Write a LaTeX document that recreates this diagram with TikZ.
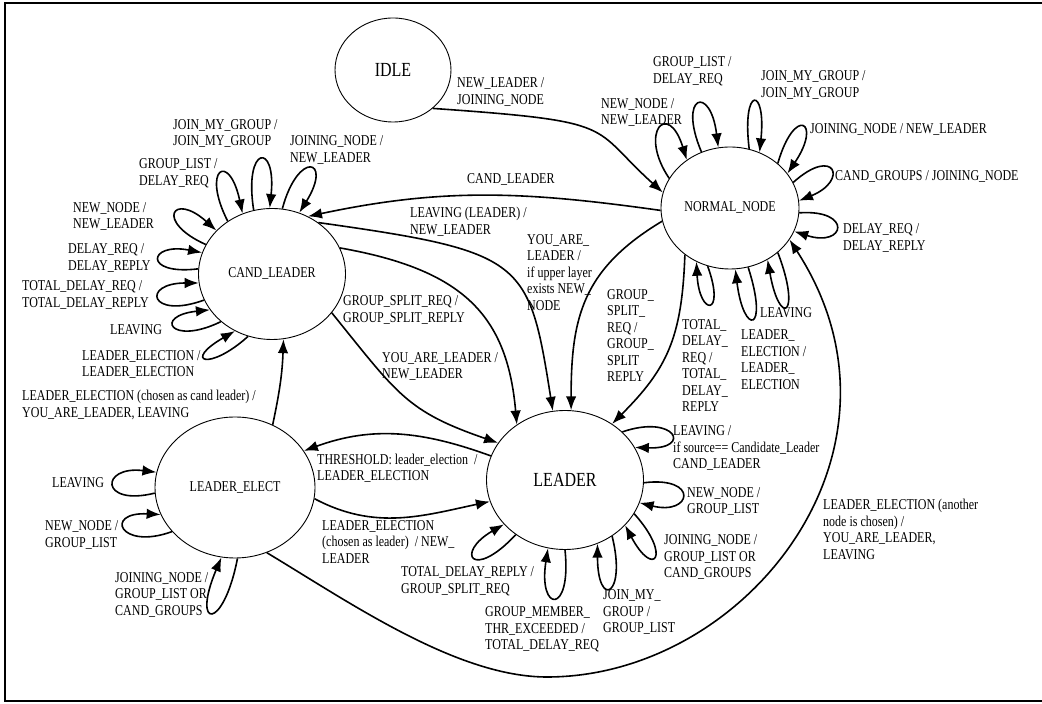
\documentclass[tikz,border=0pt]{standalone}
\usepackage{fontspec}
\setmainfont{Liberation Serif}[FakeStretch=0.8]
\usetikzlibrary{shapes.geometric,arrows.meta}
\tikzstyle{trans}=[->,>={Latex[length=14pt,width=10.5pt]},line width=1.6pt]
\tikzstyle{state}=[ellipse,draw,line width=0.9pt,inner sep=0pt]
\tikzstyle{big}=[font=\fontsize{20}{22}\selectfont]
\tikzstyle{lbl}=[inner sep=0pt,anchor=west,align=left]

\begin{document}
\begin{tikzpicture}[x=1pt,y=1pt,font=\fontsize{15}{16.5}\selectfont]
\useasboundingbox (0,0) rectangle (1042,704);
%The frame
\draw[line width=2pt] (1042,701) -- (5,701) -- (5,3) -- (1042,3);

%The states
\draw (393,634) node[state,big,minimum width=116pt,minimum height=104pt] (idle) {IDLE};
\draw (730,496) node[state,minimum width=138pt,minimum height=122pt] (normal) {NORMAL\_NODE};
\draw (272,430) node[state,minimum width=147pt,minimum height=131pt] (cand) {CAND\_LEADER};
\draw (235,216.5) node[state,minimum width=160pt,minimum height=141pt] (elect) {LEADER\_ELECT};
\draw (565,224) node[state,big,minimum width=157pt,minimum height=139pt] (leader) {LEADER};

%Transitions between states
\draw[trans] (idle.-44) to[out=-4,in=138,out distance=190pt,in distance=100pt] (normal.167);
\draw[trans] (normal.182) to[out=172,in=12] (cand.58);
\draw[trans] (cand.48) to[out=-8,in=99,out distance=209pt,in distance=153pt] (leader.100);
\draw[trans] (cand.21) to[out=-10,in=95,out distance=125pt,in distance=110pt] (leader.131);
\draw[trans] (cand.327) to[out=-51,in=161,out distance=105pt,in distance=97pt] (leader.151);
\draw[trans] (normal.191) to[out=211,in=90,out distance=93pt,in distance=93pt] (leader.85);
\draw[trans] (normal.226) to[out=268,in=45,out distance=83pt,in distance=78pt] (leader.50);
\draw[trans] (elect.59) to[out=78,in=268] (cand.280);
\draw[trans] (leader.162) to[out=160,in=20] (elect.28);
\draw[trans] (elect.352) to[out=-28,in=192] (leader.196);
\coordinate (low) at (547,27);
\draw[trans] (elect.296) to[out=-31,in=180,out distance=98pt,in distance=90pt] (low)
  to[out=0,in=303,out distance=200pt,in distance=250pt] (normal.332);

%Loops on NORMAL_NODE
\draw[trans] (normal.154) to[out=124,in=107,out distance=56pt,in distance=63pt] (normal.132);
\draw[trans] (normal.117) to[out=113,in=97,out distance=62pt,in distance=64pt] (normal.101);
\draw[trans] (normal.72) to[out=97,in=84,out distance=64pt,in distance=67pt] (normal.62);
\draw[trans] (normal.43) to[out=74,in=56,out distance=61pt,in distance=63pt] (normal.31);
\draw[trans] (normal.22) to[out=42,in=22,out distance=56pt,in distance=54pt] (normal.6);
\draw[trans] (normal.356) to[out=4,in=-18,out distance=54pt,in distance=54pt] (normal.340);
\draw[trans] (normal.317) to[out=-69,in=-80,out distance=68pt,in distance=70pt] (normal.306);
\draw[trans] (normal.287) to[out=-72,in=-83,out distance=69pt,in distance=68pt] (normal.275);
\draw[trans] (normal.249) to[out=-70,in=-87,out distance=54pt,in distance=55pt] (normal.238);

%Loops on CAND_LEADER
\draw[trans] (cand.106) to[out=99,in=84,out distance=66pt,in distance=67pt] (cand.92);
\draw[trans] (cand.81) to[out=75,in=58,out distance=61pt,in distance=64pt] (cand.66);
\draw[trans] (cand.130) to[out=117,in=102,out distance=59pt,in distance=64pt] (cand.116);
\draw[trans] (cand.156) to[out=156,in=138,out distance=56pt,in distance=59pt] (cand.142);
\draw[trans] (cand.176) to[out=187,in=169,out distance=56pt,in distance=55pt] (cand.163);
\draw[trans] (cand.201) to[out=200,in=180,out distance=58pt,in distance=58pt] (cand.187);
\draw[trans] (cand.223) to[out=206,in=186,out distance=56pt,in distance=57pt] (cand.210);
\draw[trans] (cand.249) to[out=222,in=210,out distance=53pt,in distance=61pt] (cand.237);

%Loops on LEADER_ELECT
\draw[trans] (elect.184) to[out=194,in=173,out distance=57pt,in distance=57pt] (elect.169);
\draw[trans] (elect.215) to[out=200,in=177,out distance=56pt,in distance=57pt] (elect.200);
\draw[trans] (elect.272) to[out=259,in=247,out distance=75pt,in distance=78pt] (elect.259);

%Loops on LEADER
\draw[trans] (leader.40) to[out=19,in=-2,out distance=56pt,in distance=58pt] (leader.25);
\draw[trans] (leader.358) to[out=7,in=-14,out distance=56pt,in distance=54pt] (leader.343);
\draw[trans] (leader.334) to[out=-48,in=-62,out distance=57pt,in distance=61pt] (leader.323);
\draw[trans] (leader.310) to[out=-76,in=-90,out distance=62pt,in distance=66pt] (leader.297);
\draw[trans] (leader.270) to[out=-84,in=-99,out distance=66pt,in distance=65pt] (leader.256);
\draw[trans] (leader.228) to[out=227,in=210,out distance=64pt,in distance=57pt] (leader.216);

%The labels
\draw (457,612) node[lbl] (l-idle) {NEW\_LEADER /\\JOINING\_NODE};
\draw (467,524) node[lbl] (l-cl) {CAND\_LEADER};
\draw (410,482) node[lbl] (l-leave) {LEAVING (LEADER) /\\NEW\_LEADER};
\draw (343,394) node[lbl] (l-split) {GROUP\_SPLIT\_REQ /\\GROUP\_SPLIT\_REPLY};
\draw (382,337.5) node[lbl] (l-you) {YOU\_ARE\_LEADER /\\NEW\_LEADER};
\draw (527,431.5) node[lbl] (l-upper) {YOU\_ARE\_\\LEADER /\\if upper layer\\exists NEW\_\\NODE};
\draw (607,368.5) node[lbl] (l-nsplit) {GROUP\_\\SPLIT\_\\REQ /\\GROUP\_\\SPLIT\\REPLY};
\draw (682,338.5) node[lbl] (l-ntotal) {TOTAL\_\\DELAY\_\\REQ /\\TOTAL\_\\DELAY\_\\REPLY};
\draw (741,344.5) node[lbl] (l-nelect) {LEADER\_\\ELECTION /\\LEADER\_\\ELECTION};
\draw (760,391) node[lbl] (l-nleave) {LEAVING};
\draw (843,466) node[lbl] (l-ndelay) {DELAY\_REQ /\\DELAY\_REPLY};
\draw (835,527) node[lbl] (l-ncand) {CAND\_GROUPS / JOINING\_NODE};
\draw (810,574) node[lbl] (l-njoining) {JOINING\_NODE / NEW\_LEADER};
\draw (761,619) node[lbl] (l-njoin) {JOIN\_MY\_GROUP /\\JOIN\_MY\_GROUP};
\draw (653,632.5) node[lbl] (l-nlist) {GROUP\_LIST /\\DELAY\_REQ};
\draw (601,591.5) node[lbl] (l-nnew) {NEW\_NODE /\\NEW\_LEADER};

\draw (173,570.5) node[lbl] (l-cjoin) {JOIN\_MY\_GROUP /\\JOIN\_MY\_GROUP};
\draw (290,554) node[lbl] (l-cjoining) {JOINING\_NODE /\\NEW\_LEADER};
\draw (139,530.5) node[lbl] (l-clist) {GROUP\_LIST /\\DELAY\_REQ};
\draw (73,487.5) node[lbl] (l-cnew) {NEW\_NODE /\\NEW\_LEADER};
\draw (68,446) node[lbl] (l-cdelay) {DELAY\_REQ /\\DELAY\_REPLY};
\draw (22,409) node[lbl] (l-ctotal) {TOTAL\_DELAY\_REQ /\\TOTAL\_DELAY\_REPLY};
\draw (110,374) node[lbl] (l-cleave) {LEAVING};
\draw (82,339.5) node[lbl] (l-celect) {LEADER\_ELECTION /\\LEADER\_ELECTION};
\draw (22,299) node[lbl] (l-chosen) {LEADER\_ELECTION (chosen as cand leader) /\\YOU\_ARE\_LEADER, LEAVING};

\draw (52,221) node[lbl] (l-eleave) {LEAVING};
\draw (45,169) node[lbl] (l-enew) {NEW\_NODE /\\GROUP\_LIST};
\draw (115,109) node[lbl] (l-ejoining) {JOINING\_NODE /\\GROUP\_LIST OR\\CAND\_GROUPS};
\draw (317,235.5) node[lbl] (l-thresh) {THRESHOLD: leader\_election \ /\\LEADER\_ELECTION};
\draw (322,162) node[lbl] (l-lchosen) {LEADER\_ELECTION\\(chosen as leader) \ / NEW\_\\LEADER};

\draw (673,255.5) node[lbl] (l-lleave) {LEAVING /\\if source== Candidate\_Leader\\CAND\_LEADER};
\draw (687,202.5) node[lbl] (l-lnew) {NEW\_NODE /\\GROUP\_LIST};
\draw (664,146.5) node[lbl] (l-ljoining) {JOINING\_NODE /\\GROUP\_LIST OR\\CAND\_GROUPS};
\draw (603,91.5) node[lbl] (l-ljoin) {JOIN\_MY\_\\GROUP /\\GROUP\_LIST};
\draw (485,74.5) node[lbl] (l-lmember) {GROUP\_MEMBER\_\\THR\_EXCEEDED /\\TOTAL\_DELAY\_REQ};
\draw (401,122.5) node[lbl] (l-ltotal) {TOTAL\_DELAY\_REPLY /\\GROUP\_SPLIT\_REQ};
\draw (823,174.5) node[lbl] (l-another) {LEADER\_ELECTION (another\\node is chosen) /\\YOU\_ARE\_LEADER,\\LEAVING};
\end{tikzpicture}
\end{document}
